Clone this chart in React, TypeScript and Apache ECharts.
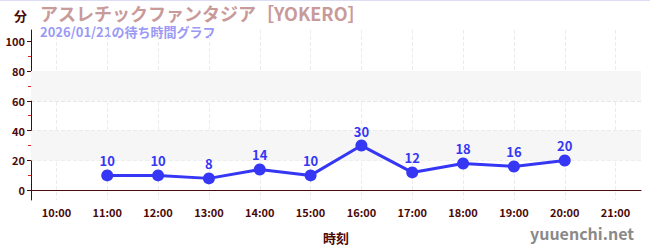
import React, { useEffect, useRef } from "react";
import * as echarts from "echarts";

const hours = ["10:00", "11:00", "12:00", "13:00", "14:00", "15:00", "16:00", "17:00", "18:00", "19:00", "20:00", "21:00"];
const waits: (number | null)[] = [null, 10, 10, 8, 14, 10, 30, 12, 18, 16, 20, null];
const majorTicks = [0, 20, 40, 60, 80, 100];
const minorTicks = [10, 30, 50, 70, 90];
const shadedBands: [number, number][] = [[20, 40], [60, 80]];
const titleText = "アスレチックファンタジア［YOKERO］";
const subtitleText = "2026/01/21の待ち時間グラフ";
const yName = "分";
const xName = "時刻";
const watermark = "yuuenchi.net";

const FONT = "'Noto Sans CJK JP', 'Noto Sans', sans-serif";
const DARK = "#4a0a0a";
const BLUE = "#3636f5";

// half-hour grid used only to place vertical split lines on the hour marks
const halfSteps: string[] = [];
hours.forEach((h) => {
  halfSteps.push(h + "-");
  halfSteps.push(h);
});
halfSteps.push("end");

export default function App() {
  const ref = useRef<HTMLDivElement>(null);
  useEffect(() => {
    if (!ref.current) return;
    const chart = echarts.init(ref.current, null, { renderer: "svg" });
    const yMin = -6.5;
    const yMax = 107.5;
    chart.setOption({
      animation: false,
      backgroundColor: "#fff",
      textStyle: { fontFamily: FONT },
      grid: { left: 31, right: 9, top: 30, bottom: 50, containLabel: false },
      graphic: [
        { type: "rect", left: 0, top: 0, shape: { width: 650, height: 1 }, style: { fill: "#dcdcf4" } },
        { type: "text", left: 14, top: 9, style: { text: yName, fill: DARK, font: `bold 13px ${FONT}`, lineHeight: 13 } },
        { type: "text", left: 40, top: 4, style: { text: titleText, fill: "#c99a9a", font: `bold 18px ${FONT}`, lineHeight: 18 } },
        { type: "text", left: 40, top: 25, style: { text: subtitleText, fill: "#9a9af5", font: `bold 13px ${FONT}`, lineHeight: 13 } },
        { type: "text", right: 16, top: 225, style: { text: watermark, fill: "#8a8a8a", font: `bold 16px ${FONT}`, lineHeight: 16 } },
      ],
      xAxis: [
        {
          type: "category",
          data: hours,
          boundaryGap: true,
          name: xName,
          nameLocation: "middle",
          nameGap: 31,
          nameTextStyle: { color: DARK, fontWeight: "bold", fontSize: 13, fontFamily: FONT },
          axisLine: { lineStyle: { color: DARK, width: 1 } },
          axisTick: { alignWithLabel: true, length: 3, lineStyle: { color: "#888" } },
          axisLabel: { color: DARK, fontWeight: "bold", fontSize: 11, margin: 6, fontFamily: FONT },
          splitLine: { show: false },
          z: 3,
        },
        {
          type: "category",
          data: halfSteps,
          boundaryGap: false,
          position: "bottom",
          axisLine: { show: false },
          axisTick: { show: false },
          axisLabel: { show: false },
          splitLine: {
            show: true,
            interval: (index: number) => index % 2 === 1,
            lineStyle: { color: "#ececec", type: "dashed" },
          },
        },
      ],
      yAxis: [
        {
          type: "value",
          min: yMin,
          max: yMax,
          splitNumber: 5,
          axisLine: { show: true, lineStyle: { color: DARK, width: 1 } },
          axisTick: { show: true, length: 4, customValues: majorTicks, lineStyle: { color: DARK } },
          axisLabel: { color: DARK, fontWeight: "bold", fontSize: 11, margin: 6, customValues: majorTicks, fontFamily: FONT },
          splitLine: { show: true, showMinLine: false, showMaxLine: false, lineStyle: { color: "#e6e6e6", type: "dashed" } },
        },
        {
          type: "value",
          min: yMin,
          max: yMax,
          position: "left",
          axisLine: { show: false },
          axisTick: { show: true, length: 3, customValues: minorTicks, lineStyle: { color: "#e02020" } },
          axisLabel: { show: false },
          splitLine: { show: false },
        },
      ],
      series: [
        {
          type: "line",
          data: waits,
          xAxisIndex: 0,
          yAxisIndex: 0,
          symbol: "circle",
          symbolSize: 12,
          connectNulls: false,
          lineStyle: { color: BLUE, width: 3 },
          itemStyle: { color: BLUE },
          label: {
            show: true,
            position: "top",
            distance: 2,
            color: BLUE,
            fontWeight: "bold",
            fontSize: 13,
            fontFamily: FONT,
          },
          markArea: {
            silent: true,
            itemStyle: { color: "#f6f6f6" },
            data: shadedBands.map(([a, b]) => [{ yAxis: a }, { yAxis: b }]),
          },
          z: 5,
        },
      ],
    });
    return () => chart.dispose();
  }, []);
  return <div ref={ref} style={{ position: "fixed", left: 0, top: 0, width: 650, height: 250 }} />;
}
